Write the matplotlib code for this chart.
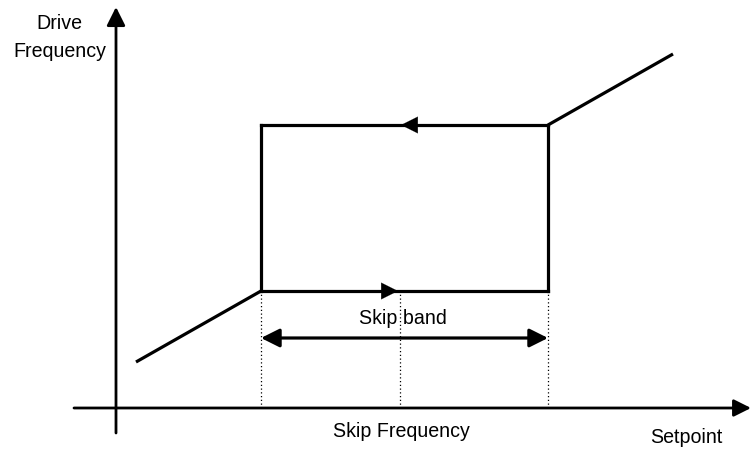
import matplotlib
matplotlib.use("Agg")
import matplotlib.pyplot as plt

# Diagram values (origin at the axis intersection, units ~ pixels)
ramp_low_x = [20, 145]          # setpoint of lower ramp
ramp_low_y = [46, 117]          # drive frequency of lower ramp
band_x = [145, 432]             # skip band edges (setpoint)
skip_center = 284               # skip frequency
freq_low = 117                  # drive frequency at lower band edge
freq_high = 283                 # drive frequency at upper band edge
ramp_high_x = [432, 557]
ramp_high_y = [283, 354]
band_arrow_y = 70
axis_x = [-42, 635]
axis_y = [-25, 401]

labels = {
    "ylabel": ["Drive", "Frequency"],
    "band": "Skip band",
    "skip": "Skip Frequency",
    "xlabel": "Setpoint",
}

fig = plt.figure(figsize=(7.51, 4.5), dpi=100)
ax = fig.add_axes([0, 0, 1, 1])
ax.set_xlim(-116, 635)
ax.set_ylim(-42, 408)
ax.axis("off")
plt.rcParams["font.family"] = ["Liberation Sans", "DejaVu Sans"]
fs = 14.1
k = "black"

def arrow(x0, y0, x1, y1, ms=27, lw=2):
    ax.annotate("", xy=(x1, y1), xytext=(x0, y0),
                arrowprops=dict(arrowstyle="-|>", mutation_scale=ms, lw=lw,
                                color=k, shrinkA=0, shrinkB=0))

# axes
arrow(axis_x[0], 0, axis_x[1], 0, ms=26, lw=2)
arrow(0, axis_y[0], 0, axis_y[1], ms=28, lw=2)

# dotted guides
for xv in [band_x[0], skip_center, band_x[1]]:
    ax.plot([xv, xv], [0, freq_low], color=k, lw=0.9, ls=(0, (1, 2)))

# hysteresis path
lw = 2.3
ax.plot(ramp_low_x, ramp_low_y, color=k, lw=lw, solid_capstyle="butt")
ax.plot(ramp_high_x, ramp_high_y, color=k, lw=lw, solid_capstyle="butt")
ax.plot([band_x[0], band_x[1]], [freq_low, freq_low], color=k, lw=lw)
ax.plot([band_x[0], band_x[1]], [freq_high, freq_high], color=k, lw=lw)
ax.plot([band_x[0], band_x[0]], [freq_low, freq_high], color=k, lw=lw)
ax.plot([band_x[1], band_x[1]], [freq_low, freq_high], color=k, lw=lw)

# direction arrows
arrow(band_x[0], freq_low, skip_center - 2, freq_low, ms=30, lw=0.1)
arrow(band_x[1], freq_high, skip_center + 1, freq_high, ms=30, lw=0.1)

# skip band double arrow
ax.annotate("", xy=(band_x[1], band_arrow_y), xytext=(band_x[0], band_arrow_y),
            arrowprops=dict(arrowstyle="<|-|>", mutation_scale=28, lw=2.3,
                            color=k, shrinkA=0, shrinkB=0))

# texts
ax.text(-56.5, 379, labels["ylabel"][0], ha="center", va="baseline", fontsize=fs)
ax.text(-56.5, 351, labels["ylabel"][1], ha="center", va="baseline", fontsize=fs)
ax.text(286.5, 84, labels["band"], ha="center", va="baseline", fontsize=fs)
ax.text(285, -29, labels["skip"], ha="center", va="baseline", fontsize=fs)
ax.text(570.5, -35, labels["xlabel"], ha="center", va="baseline", fontsize=fs)

fig.savefig("out.png", dpi=100, facecolor="white")
